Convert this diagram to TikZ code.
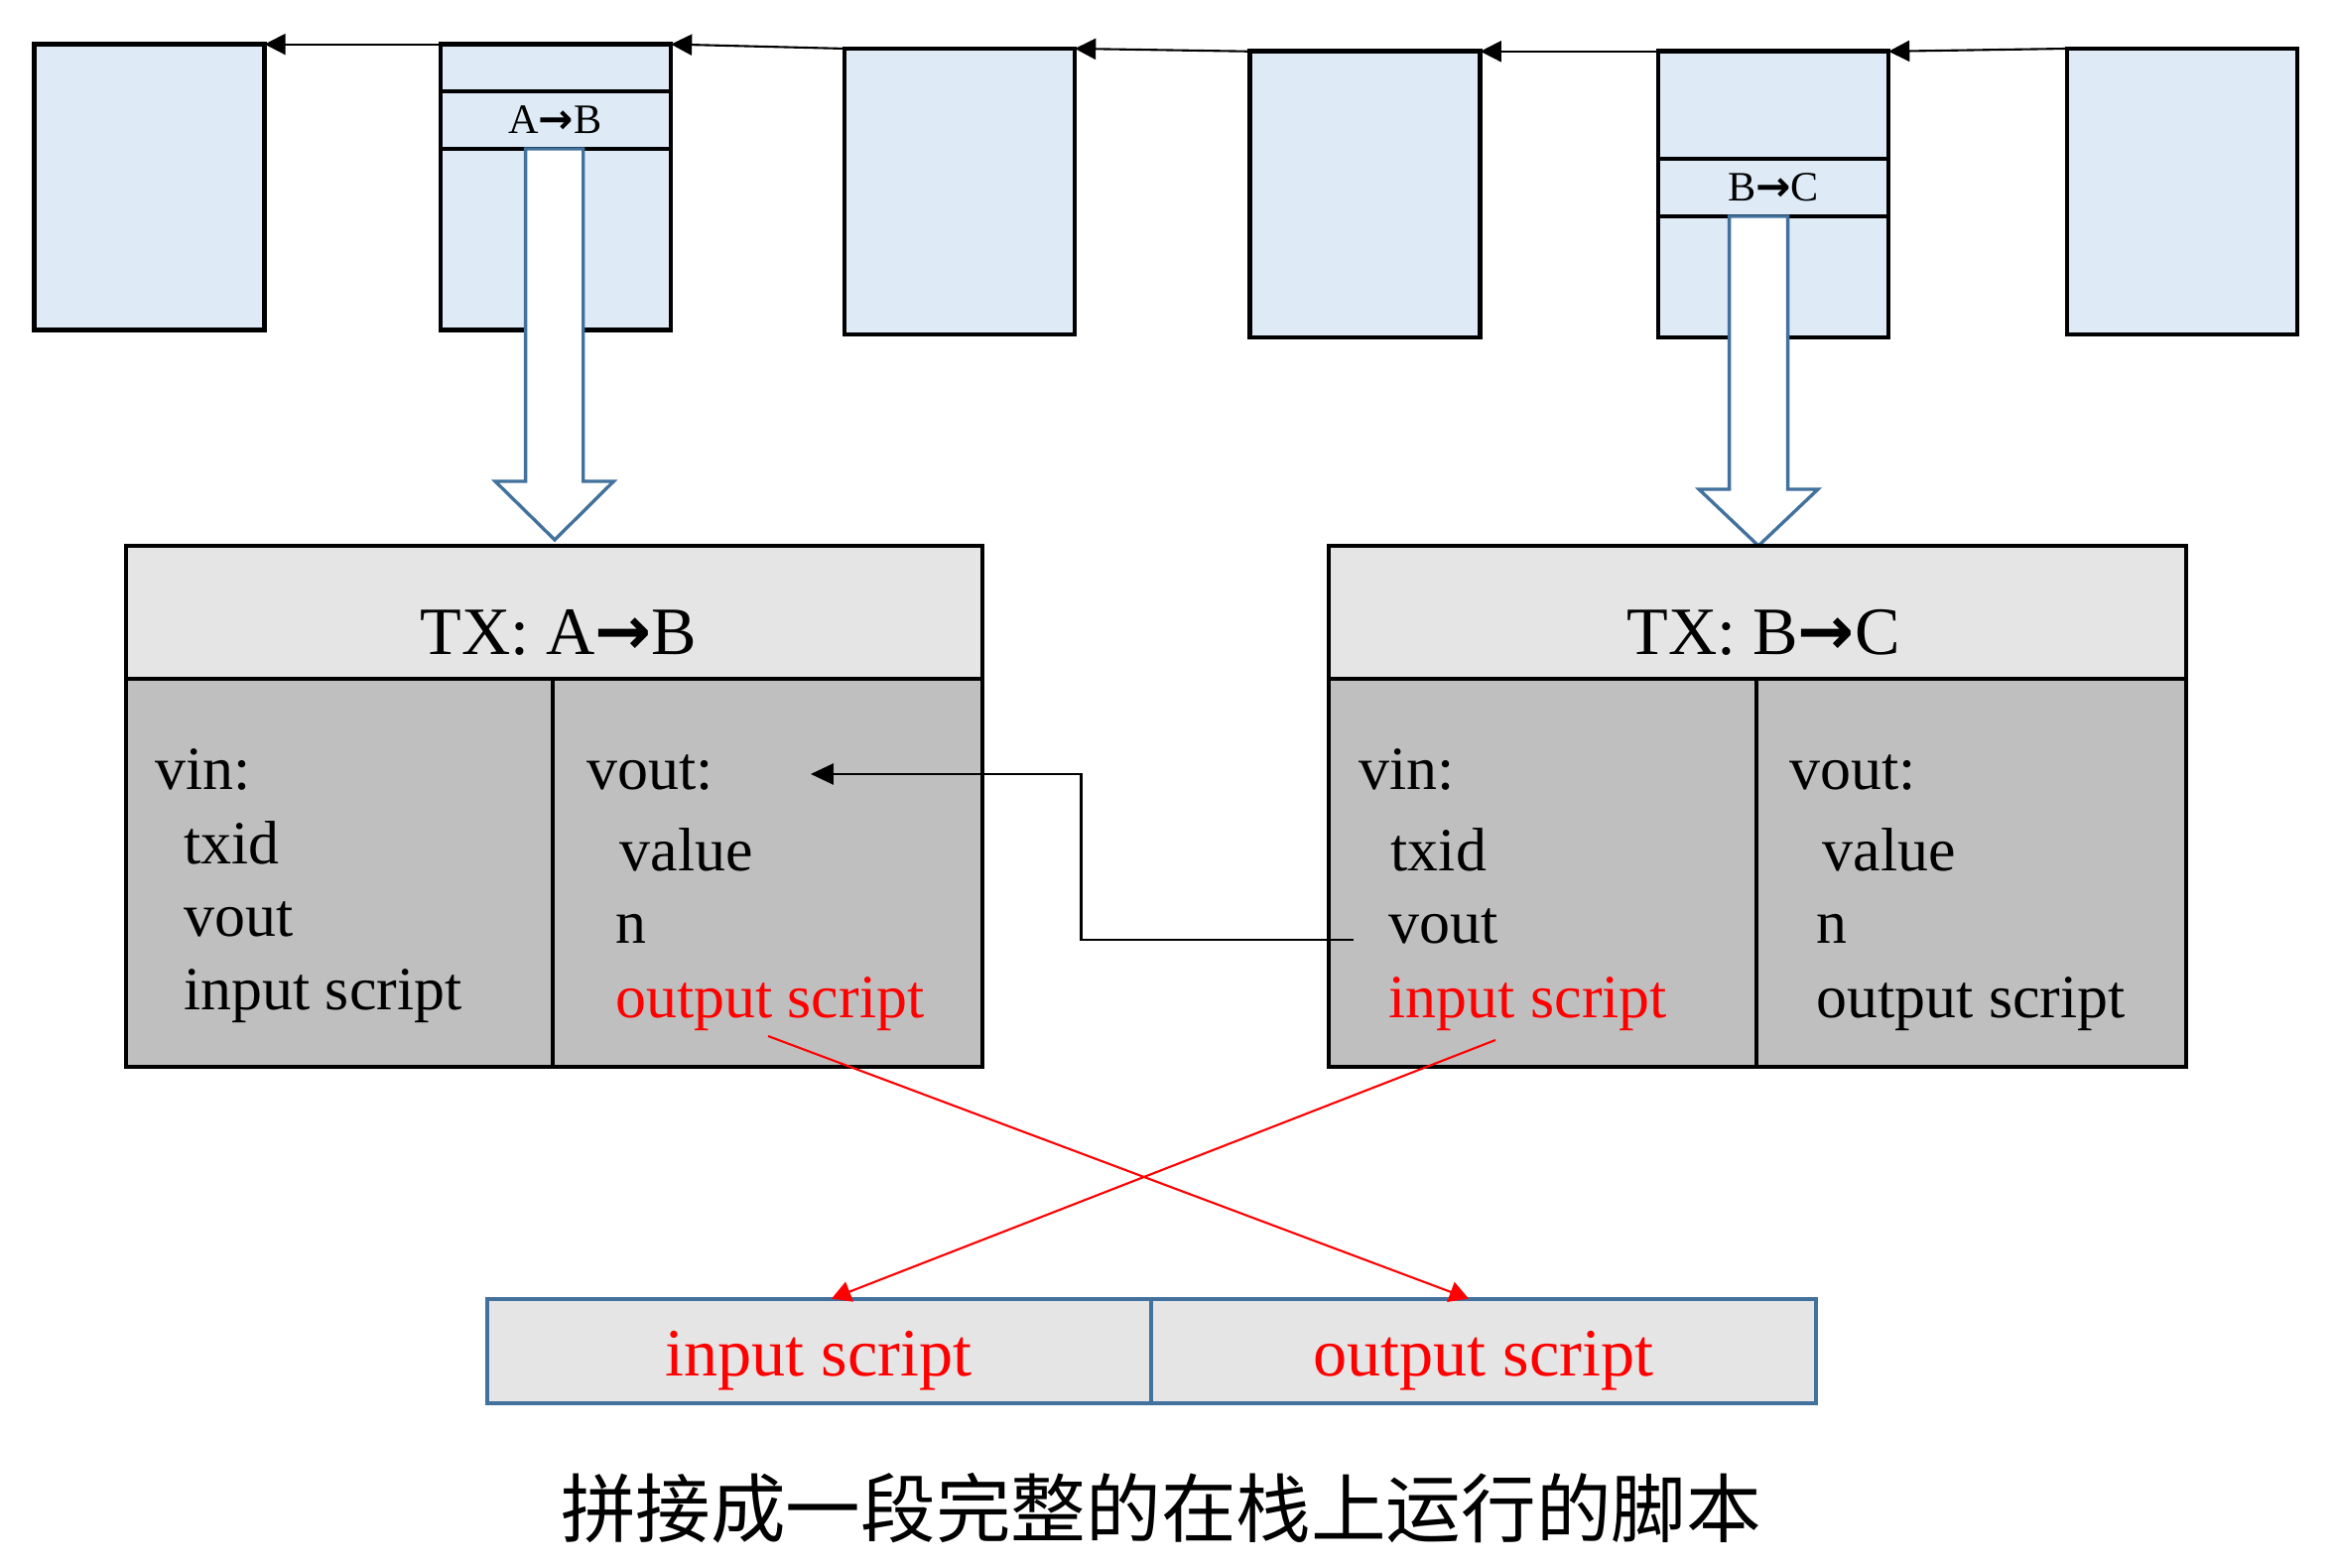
\documentclass[tikz,border=0pt]{standalone}
\usepackage{fontspec}
\setmainfont{Liberation Serif}
\newfontfamily\cjkfont{Noto Sans CJK SC}
\newfontfamily\arrfont{DejaVu Sans}
\usetikzlibrary{arrows.meta}
\definecolor{blkfill}{RGB}{222,235,247}
\definecolor{hdrfill}{RGB}{229,229,229}
\definecolor{bodyfill}{RGB}{191,191,191}
\definecolor{arrblue}{RGB}{65,113,156}
\definecolor{scred}{RGB}{255,0,0}
\newcommand{\rarr}{{\arrfont\bfseries →}}
\begin{document}
\begin{tikzpicture}[x=0.01cm,y=-0.01cm,
  blk/.style={draw=black, line width=1.3pt, fill=blkfill, rectangle, inner sep=0, outer sep=0,
    minimum width=2.32cm, minimum height=2.88cm, anchor=north west},
  smalllbl/.style={inner sep=0, font=\fontsize{12}{14}\selectfont},
  hdrcell/.style={fill=hdrfill, rectangle, inner sep=0, outer sep=0, anchor=north west},
  bodycell/.style={fill=bodyfill, rectangle, inner sep=0, outer sep=0, anchor=north west},
  hdrtxt/.style={anchor=base, inner sep=0, font=\fontsize{19.4}{22}\selectfont},
  txt/.style={anchor=base west, inner sep=0, font=\fontsize{17.6}{20}\selectfont},
  redtxt/.style={txt, text=scred},
  outbox/.style={draw=arrblue, line width=1.15pt, fill=hdrfill, rectangle, inner sep=0, outer sep=0,
    minimum width=6.695cm, minimum height=1.05cm, anchor=north west},
  bottxt/.style={anchor=base, inner sep=0, text=scred, font=\fontsize{19.4}{22}\selectfont},
  chainarr/.style={draw=black, line width=0.6pt, -{Triangle[length=6pt,width=6pt]}},
  barrow/.style={draw=arrblue, line width=0.95pt, fill=white},
  redarr/.style={draw=scred, line width=0.6pt, -{Triangle[length=5.5pt,width=6pt]}},
  linkarr/.style={draw=black, line width=0.6pt, -{Triangle[length=6.5pt,width=6pt]}},
  framebox/.style={draw=black, line width=1.2pt},
]
\useasboundingbox (0,0) rectangle (2352,1580);

% ---- top chain of blocks ----
\node[blk] (b1) at (34.5,44.6) {};
\node[blk] (b2) at (444,44.6) {};
\node[blk] (b3) at (851,49) {};
\node[blk] (b4) at (1259.6,51.8) {};
\node[blk] (b5) at (1671,51.8) {};
\node[blk] (b6) at (2083,49) {};

\draw[line width=1.3pt] (444,92) -- (675,92);
\draw[line width=1.3pt] (444,150) -- (675,150);
\node[smalllbl] (l1) at (559.5,121) {A\rarr B};

\draw[line width=1.3pt] (1671,160) -- (1903,160);
\draw[line width=1.3pt] (1671,218) -- (1903,218);
\node[smalllbl] (l2) at (1787,189) {B\rarr C};

\draw[chainarr] (b2.north west) -- (b1.north east);
\draw[chainarr] (b3.north west) -- (b2.north east);
\draw[chainarr] (b4.north west) -- (b3.north east);
\draw[chainarr] (b5.north west) -- (b4.north east);
\draw[chainarr] (b6.north west) -- (b5.north east);

% ---- hollow block arrows ----
\draw[barrow] (529.6,150) -- (529.6,485) -- (499,485) -- (559,544) -- (618.4,485) -- (587.7,485) -- (587.7,150) -- cycle;
\draw[barrow] (1742.6,218) -- (1742.6,493) -- (1712,493) -- (1772,550) -- (1832,493) -- (1801.6,493) -- (1801.6,218) -- cycle;

% ---- TX A->B ----
\node[hdrcell, minimum width=8.633cm, minimum height=1.34cm] (h1) at (126.7,550) {};
\node[bodycell, minimum width=4.303cm, minimum height=3.91cm] (c1l) at (126.7,684) {};
\node[bodycell, minimum width=4.33cm, minimum height=3.91cm] (c1r) at (557,684) {};
\draw[framebox] (126.7,550) rectangle (990,1075);
\draw[line width=1.1pt] (126.7,684) -- (990,684);
\draw[line width=0.9pt] (557,684) -- (557,1075);
\node[hdrtxt] (t1) at (563,660) {TX: A\rarr B};
\node[txt] (t1vin) at (156,796) {vin:};
\node[txt] (t1txid) at (184.5,871) {txid};
\node[txt] (t1vout) at (184.5,944) {vout};
\node[txt] (t1in) at (184.5,1017.5) {input script};
\node[txt] (t1vouts) at (591,796) {vout:};
\node[txt] (t1val) at (624,878) {value};
\node[txt] (t1n) at (619.5,951) {n};
\node[redtxt] (t1out) at (619.5,1026) {output script};

% ---- TX B->C ----
\node[hdrcell, minimum width=8.64cm, minimum height=1.34cm] (h2) at (1339,550) {};
\node[bodycell, minimum width=4.31cm, minimum height=3.91cm] (c2l) at (1339,684) {};
\node[bodycell, minimum width=4.33cm, minimum height=3.91cm] (c2r) at (1770,684) {};
\draw[framebox] (1339,550) rectangle (2203,1075);
\draw[line width=1.1pt] (1339,684) -- (2203,684);
\draw[line width=0.9pt] (1770,684) -- (1770,1075);
\node[hdrtxt] (t2) at (1777,660) {TX: B\rarr C};
\node[txt] (t2vin) at (1369,796) {vin:};
\node[txt] (t2txid) at (1401,878) {txid};
\node[txt] (t2vout) at (1399,951) {vout};
\node[redtxt] (t2in) at (1399,1026) {input script};
\node[txt] (t2vouts) at (1803,796) {vout:};
\node[txt] (t2val) at (1836,878) {value};
\node[txt] (t2n) at (1830,951) {n};
\node[txt] (t2out) at (1830,1026) {output script};

% ---- link vin.vout -> vout ----
\coordinate (e1) at (1363.6,947);
\coordinate (e2) at (817,780);
\draw[linkarr] (e1) -- (1089.5,947) -- (1089.5,780) -- (e2);

% ---- bottom combined script ----
\node[outbox] (bx1) at (490.7,1308.6) {};
\node[outbox] (bx2) at (1160,1308.6) {};
\node[bottxt] (bt1) at (825,1386) {input script};
\node[bottxt] (bt2) at (1495,1386) {output script};

\coordinate (r1s) at (774,1044);
\coordinate (r1e) at (1480,1308.6);
\coordinate (r2s) at (1507,1048);
\coordinate (r2e) at (838,1308.6);
\draw[redarr] (r1s) -- (r1e);
\draw[redarr] (r2s) -- (r2e);

% ---- caption ----
\node[inner sep=0, font=\cjkfont\fontsize{21.5}{24}\selectfont] (cap) at (1170,1520) {拼接成一段完整的在栈上运行的脚本};
\end{tikzpicture}
\end{document}
